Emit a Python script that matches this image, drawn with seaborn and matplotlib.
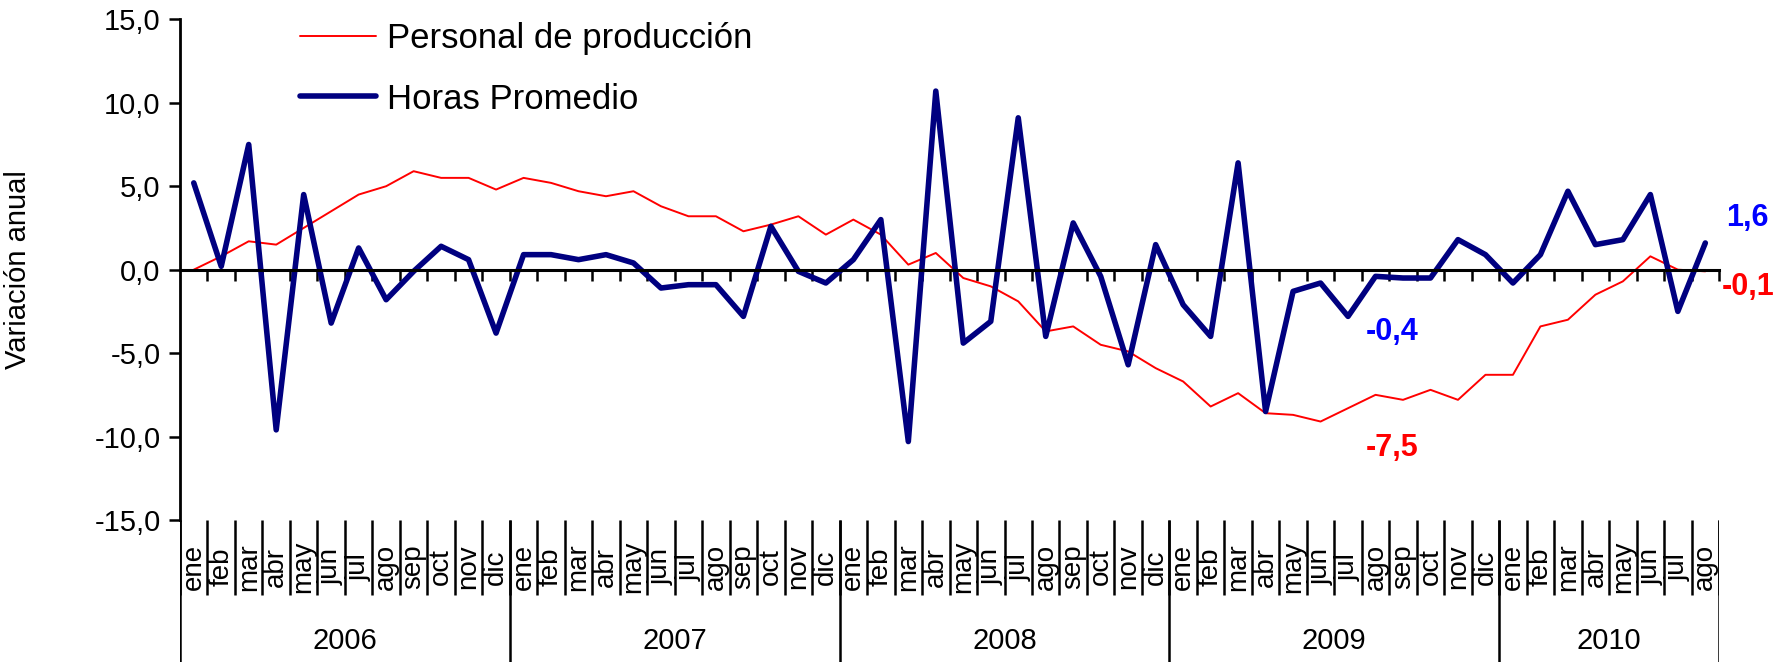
import numpy as np
import pandas as pd
import matplotlib
matplotlib.use('Agg')
import matplotlib.pyplot as plt
from matplotlib.ticker import FuncFormatter
import seaborn as sns

# meses / años de la serie (ene 2006 - ago 2010)
month_names = ['ene', 'feb', 'mar', 'abr', 'may', 'jun', 'jul', 'ago', 'sep', 'oct', 'nov', 'dic']
years = ['2006', '2007', '2008', '2009', '2010']
months_per_year = [12, 12, 12, 12, 8]

# variación anual (%)
personal = [0.0, 0.8, 1.7, 1.5, 2.5, 3.5, 4.5, 5.0, 5.9, 5.5, 5.5, 4.8,
            5.5, 5.2, 4.7, 4.4, 4.7, 3.8, 3.2, 3.2, 2.3, 2.7, 3.2, 2.1,
            3.0, 2.1, 0.3, 1.0, -0.5, -1.0, -1.9, -3.7, -3.4, -4.5, -4.9, -5.9,
            -6.7, -8.2, -7.4, -8.6, -8.7, -9.1, -8.3, -7.5, -7.8, -7.2, -7.8, -6.3,
            -6.3, -3.4, -3.0, -1.5, -0.7, 0.8, 0.0, -0.1]
horas = [5.2, 0.2, 7.5, -9.6, 4.5, -3.2, 1.3, -1.8, -0.1, 1.4, 0.6, -3.8,
         0.9, 0.9, 0.6, 0.9, 0.4, -1.1, -0.9, -0.9, -2.8, 2.6, -0.1, -0.8,
         0.6, 3.0, -10.3, 10.7, -4.4, -3.1, 9.1, -4.0, 2.8, -0.4, -5.7, 1.5,
         -2.1, -4.0, 6.4, -8.5, -1.3, -0.8, -2.8, -0.4, -0.5, -0.5, 1.8, 0.9,
         -0.8, 0.9, 4.7, 1.5, 1.8, 4.5, -2.5, 1.6]

sns.set_style('ticks')
plt.rcParams['font.family'] = ['Liberation Sans', 'DejaVu Sans']
for k in ['text.color', 'axes.labelcolor', 'xtick.color', 'ytick.color', 'axes.edgecolor']:
    plt.rcParams[k] = 'black'

months = [m for y, n in zip(years, months_per_year) for m in month_names[:n]]
df = pd.DataFrame({'mes': np.arange(len(months)), 'personal': personal, 'horas': horas})

fig = plt.figure(figsize=(17.77, 6.62), dpi=100)
ax = fig.add_axes([0.1013, 0.2145, 0.8661, 0.7563])

sns.lineplot(data=df, x='mes', y='personal', ax=ax, color='#FF0000', lw=1.4,
             label='Personal de producción')
sns.lineplot(data=df, x='mes', y='horas', ax=ax, color='#000080', lw=4,
             label='Horas Promedio')

ax.set_xlim(-0.5, len(months) - 0.5)
ax.set_ylim(-15, 15)
ax.set_yticks(np.arange(-15, 16, 5))
ax.yaxis.set_major_formatter(FuncFormatter(lambda v, p: f'{v:.1f}'.replace('.', ',')))
ax.tick_params(axis='y', length=8, width=1.8, labelsize=21, pad=6)

ax.spines['top'].set_visible(False)
ax.spines['right'].set_visible(False)
ax.spines['bottom'].set_position(('data', 0))
ax.spines['bottom'].set_linewidth(2.2)
ax.spines['left'].set_linewidth(2)
ax.set_xticks(np.arange(0.5, len(months), 1))
ax.set_xticklabels([])
ax.tick_params(axis='x', direction='out', length=8, width=1.8)

ax.set_xlabel('')
ax.set_ylabel('Variación anual', fontsize=21)
ax.yaxis.set_label_coords(-0.096, 0.5)

ax.legend(loc='upper left', bbox_to_anchor=(0.078, 0.995), frameon=False, fontsize=25,
          handlelength=2.2, handletextpad=0.3, labelspacing=0.8, borderaxespad=0, borderpad=0)

# etiquetas de los últimos datos y de hace un año
ann = dict(textcoords='offset points', ha='center', va='center', fontsize=22,
           fontweight='bold', annotation_clip=False)
ax.annotate('1,6', xy=(55, horas[55]), xytext=(30, 18), color='#0000FF', **ann)
ax.annotate('-0,1', xy=(55, personal[55]), xytext=(31, -11), color='#FF0000', **ann)
ax.annotate('-0,4', xy=(43, horas[43]), xytext=(12, -40), color='#0000FF', **ann)
ax.annotate('-7,5', xy=(43, personal[43]), xytext=(12, -38), color='#FF0000', **ann)

# eje de categorías de dos niveles (mes / año)
lab = fig.add_axes([0.1013, 0.0, 0.8661, 0.2145])
lab.set_xlim(-0.5, len(months) - 0.5)
lab.set_ylim(0, 1)
lab.axis('off')
lab.vlines(np.arange(-0.5, len(months), 1), 0.472, 1, color='black', lw=1.8)
edges = np.concatenate([[0], np.cumsum(months_per_year)]) - 0.5
lab.vlines(edges, 0, 1, color='black', lw=1.8)
for k, m in enumerate(months):
    lab.text(k, 0.67, m, rotation=90, ha='center', va='center', fontsize=20)
for y, a, b in zip(years, edges[:-1], edges[1:]):
    lab.text((a + b) / 2, 0.145, y, ha='center', va='center', fontsize=21)

fig.savefig('out.png', dpi=100)
